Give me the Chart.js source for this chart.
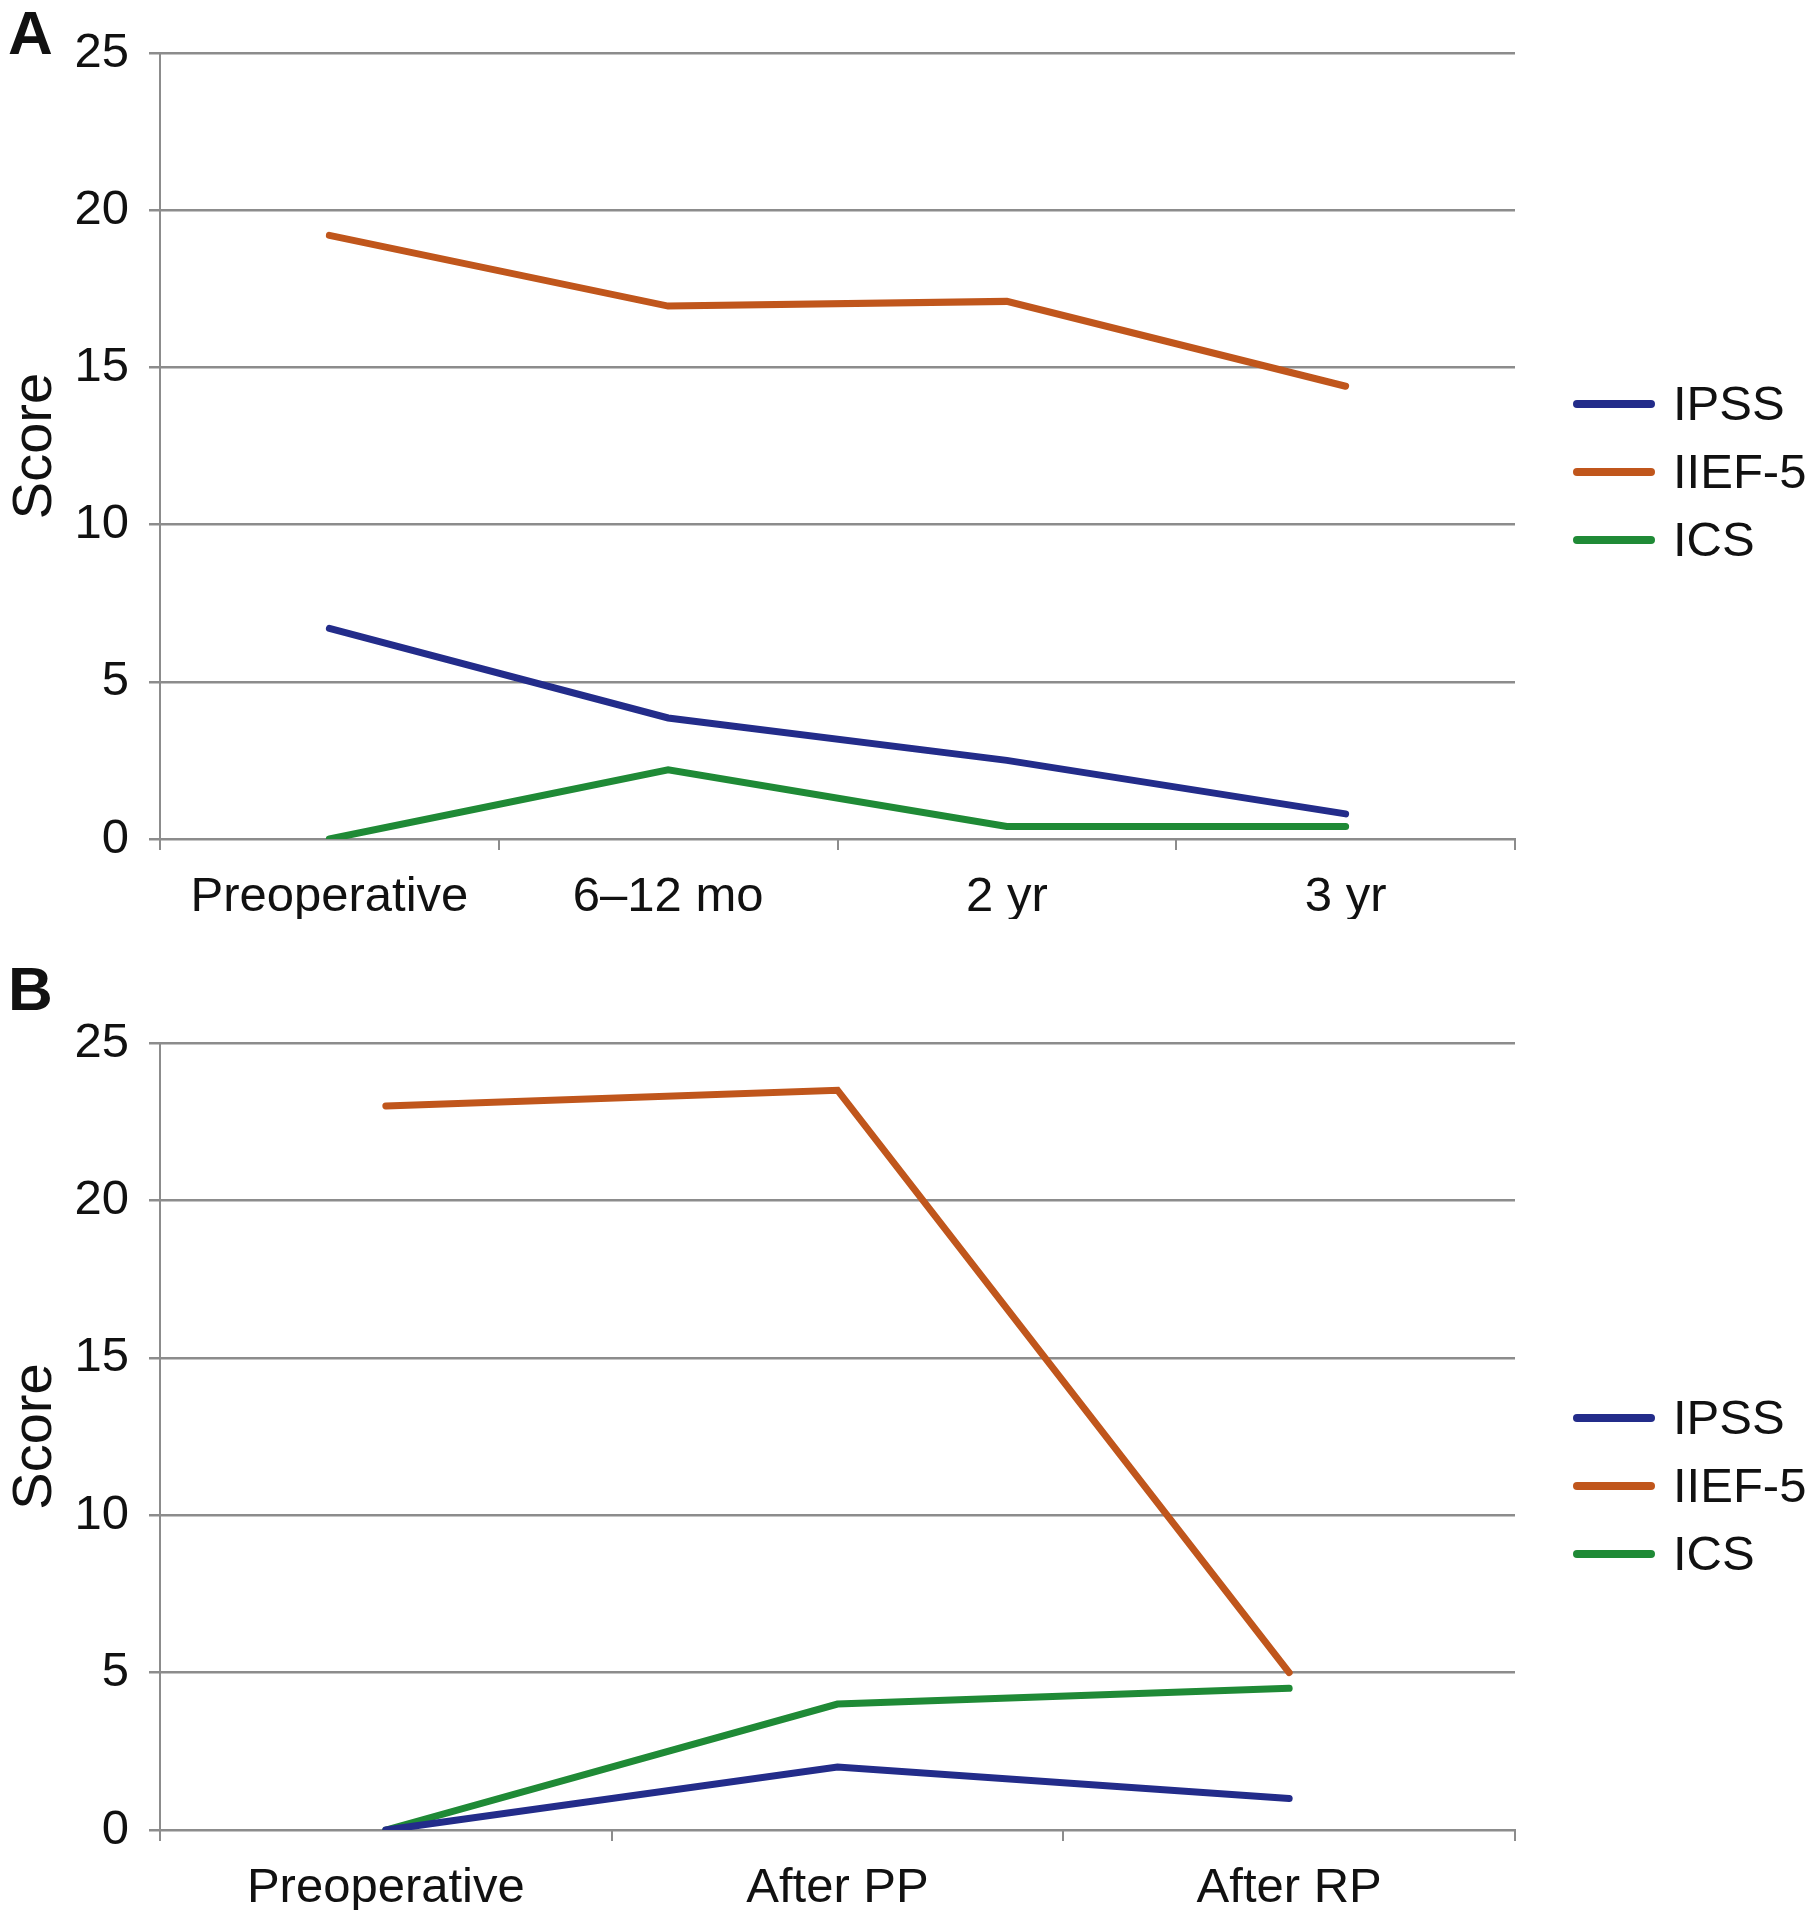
<!DOCTYPE html>
<html>
<head>
<meta charset="utf-8">
<script src="https://cdn.jsdelivr.net/npm/chart.js@4/dist/chart.umd.min.js"></script>
<style>
  html, body { margin: 0; padding: 0; background: #fff; }
  #page { position: relative; width: 1810px; height: 1920px; background: #fff; }
  .panel { position: absolute; left: 0; width: 1810px; height: 960px; }
  .tag { position: absolute; left: 8px; font: bold 62px "Liberation Sans", Arial, sans-serif; color: #111; line-height: 1; }
</style>
</head>
<body>
<div id="page">
  <div class="panel" style="top:0"><canvas id="chartA"></canvas></div>
  <div class="panel" style="top:960px"><canvas id="chartB"></canvas></div>
  <div class="tag" style="top:2px">A</div>
  <div class="tag" style="top:958px">B</div>
</div>
<script>
// panel A
const labelsA = ['Preoperative', '6\u201312 mo', '2 yr', '3 yr'];
const ipssA = [6.7, 3.85, 2.5, 0.8];
const iiefA = [19.2, 16.95, 17.1, 14.4];
const icsA = [0, 2.2, 0.4, 0.4];

// panel B
const labelsB = ['Preoperative', 'After PP', 'After RP'];
const ipssB = [0, 2, 1];
const iiefB = [23, 23.5, 5];
const icsB = [0, 4, 4.5];

const yTicks = [0, 5, 10, 15, 20, 25];
const seriesNames = ['IPSS', 'IIEF-5', 'ICS'];
const seriesColors = ['#232c8a', '#c0561c', '#1f8a36'];

const FONT = '"Liberation Sans", Arial, sans-serif';
const GRID = '#8c8c8c';

const sideLegend = {
    id: 'sideLegend',
    afterDraw(chart, args, opts) {
        const ctx = chart.ctx;
        const x0 = chart.chartArea.right + 62;
        chart.data.datasets.forEach((ds, i) => {
            const y = opts.top + i * opts.gap;
            ctx.save();
            ctx.strokeStyle = ds.borderColor;
            ctx.lineWidth = 8;
            ctx.lineCap = 'round';
            ctx.beginPath();
            ctx.moveTo(x0, y);
            ctx.lineTo(x0 + 74, y);
            ctx.stroke();
            ctx.fillStyle = '#111';
            ctx.font = '49px ' + FONT;
            ctx.textBaseline = 'middle';
            ctx.fillText(ds.label, x0 + 96, y + 2);
            ctx.restore();
        });
    }
};

function makeDatasets(values) {
    return values.map((v, i) => ({
        label: seriesNames[i],
        data: v,
        borderColor: seriesColors[i],
        backgroundColor: seriesColors[i],
        borderWidth: 7,
        borderCapStyle: 'round',
        borderJoinStyle: 'miter',
        pointRadius: 0,
        tension: 0
    }));
}

function buildChart(id, labels, values, layout) {
    const ctx = document.getElementById(id).getContext('2d');
    return new Chart(ctx, {
        type: 'line',
        data: { labels: labels, datasets: makeDatasets(values) },
        options: {
            responsive: false,
            maintainAspectRatio: false,
            animation: false,
            devicePixelRatio: 1,
            layout: { padding: { top: layout.top, bottom: layout.bottom, left: 0, right: 295 } },
            plugins: {
                legend: { display: false },
                tooltip: { enabled: false },
                sideLegend: { top: layout.legendTop, gap: 68 }
            },
            scales: {
                x: {
                    offset: true,
                    grid: { offset: true, drawOnChartArea: false, color: GRID, lineWidth: 2, tickLength: 11 },
                    border: { color: GRID, width: 2 },
                    ticks: { color: '#111', font: { family: FONT, size: 49 }, padding: 18, maxRotation: 0, autoSkip: false },
                    afterFit: s => { s.height = layout.xHeight; }
                },
                y: {
                    min: 0,
                    max: 25,
                    afterBuildTicks: s => { s.ticks = yTicks.map(v => ({ value: v })); },
                    grid: { color: GRID, lineWidth: 2.5, tickLength: 11 },
                    border: { color: GRID, width: 2 },
                    ticks: { color: '#111', font: { family: FONT, size: 49 }, padding: 20 },
                    title: { display: true, text: 'Score', color: '#111', font: { family: FONT, size: 56 }, padding: { top: 2, bottom: 0 } },
                    afterFit: s => { s.width = 160; }
                }
            }
        },
        plugins: [sideLegend]
    });
}

function sizeCanvas(id) {
    const c = document.getElementById(id);
    c.width = 1810; c.height = 960;
    c.style.width = '1810px'; c.style.height = '960px';
}

document.addEventListener('DOMContentLoaded', () => {
    sizeCanvas('chartA');
    sizeCanvas('chartB');
    buildChart('chartA', labelsA, [ipssA, iiefA, icsA], { top: 53, bottom: 41, xHeight: 80, legendTop: 404 });
    buildChart('chartB', labelsB, [ipssB, iiefB, icsB], { top: 83, bottom: 10, xHeight: 80, legendTop: 458 });
});
</script>
</body>
</html>
